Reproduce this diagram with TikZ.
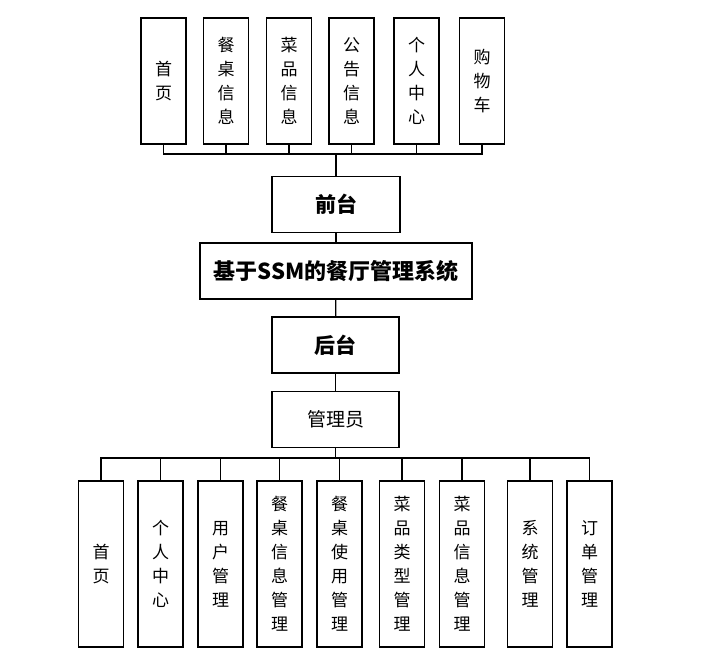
\documentclass[tikz,border=0pt]{standalone}
\usepackage{fontspec}
\newfontfamily\cjk{Noto Sans CJK SC}
\usetikzlibrary{calc}
\tikzset{
  leaf/.style={draw, line width=1.2pt, minimum width=45pt, inner sep=0pt,
    align=center, font=\cjk\fontsize{17}{24}\selectfont},
  head/.style={draw, line width=1.2pt, minimum height=56pt, inner sep=0pt,
    align=center, font=\cjk\bfseries\fontsize{21}{25}\selectfont},
  link/.style={line width=1.3pt}
}
\begin{document}
\begin{tikzpicture}[x=1pt, y=-1pt]
\useasboundingbox (0,0) rectangle (721,669);
% Middle column
\node[head, minimum width=128pt] (front) at (336,204.5) {前台};
\node[head, minimum width=272pt, font=\cjk\bfseries\fontsize{22}{26}\selectfont] (system) at (336,271) {基于SSM的餐厅管理系统};
\node[head, minimum width=127pt] (back) at (335.5,345) {后台};
\node[head, minimum width=127pt, font=\cjk\fontsize{19}{22}\selectfont] (admin) at (335.5,419.5) {管理员};
% Bus points
\coordinate (topbus) at (336,154);
\coordinate (botbus) at (335.5,458);
% Front modules
\foreach \x/\txt [count=\i] in {163.5/{首\\页}, 226/{餐\\桌\\信\\息}, 289/{菜\\品\\信\\息},
    351.5/{公\\告\\信\\息}, 416.5/{个\\人\\中\\心}, 482/{购\\物\\车}} {
  \node[leaf, minimum height=126pt] (t\i) at (\x,81) {\txt};
  \draw[link] (t\i.south) |- (topbus);
}
% Admin modules
\foreach \x/\txt [count=\i] in {101/{首\\页}, 160.5/{个\\人\\中\\心}, 220.5/{用\\户\\管\\理},
    279.5/{餐\\桌\\信\\息\\管\\理}, 339.5/{餐\\桌\\使\\用\\管\\理}, 402/{菜\\品\\类\\型\\管\\理},
    462/{菜\\品\\信\\息\\管\\理}, 530/{系\\统\\管\\理}, 589.5/{订\\单\\管\\理}} {
  \node[leaf, minimum height=166pt] (b\i) at (\x,564) {\txt};
  \draw[link] (botbus) -| (b\i.north);
}
% Trunk
\draw[link] (topbus) -- (front);
\draw[link] (front) -- (system);
\draw[link] (system) -- (back);
\draw[link] (back) -- (admin);
\draw[link] (admin) -- (botbus);
\end{tikzpicture}
\end{document}
